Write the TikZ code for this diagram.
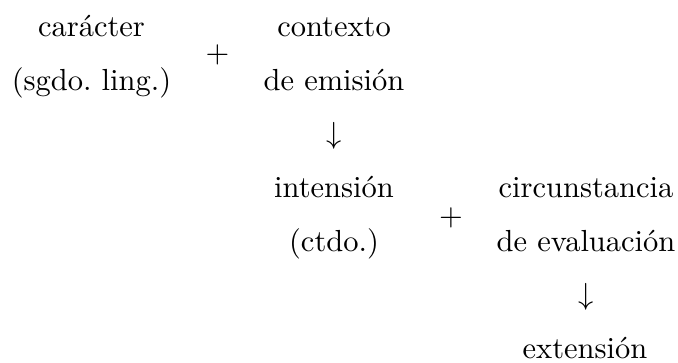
\documentclass[tikz,border=0pt]{standalone}
\begin{document}
\begin{tikzpicture}[x=0.3279pt,y=-0.3279pt,
  lbl/.style={anchor=base,inner sep=0pt,outer sep=0pt}]
\useasboundingbox (0,0) rectangle (678,363);
% column 1
\node[lbl] (car) at (91.5,37) {carácter};
\node[lbl] (sgdo) at (91.5,90.5) {(sgdo.\ ling.)};
\node[lbl] (plusA) at (217.5,63) {$+$};
% column 2
\node[lbl] (cont) at (334,37) {contexto};
\node[lbl] (emis) at (334,90.5) {de emisión};
\node[lbl] (arrA) at (334.5,144) {$\downarrow$};
\node[lbl] (int) at (334,197.5) {intensión};
\node[lbl] (ctdo) at (334,251) {(ctdo.)};
\node[lbl] (plusB) at (451,225) {$+$};
% column 3
\node[lbl] (circ) at (586,197.5) {circunstancia};
\node[lbl] (eval) at (586,251) {de evaluación};
\node[lbl] (arrB) at (586.4,304.5) {$\downarrow$};
\node[lbl] (ext) at (585,358) {extensión};
\end{tikzpicture}
\end{document}
